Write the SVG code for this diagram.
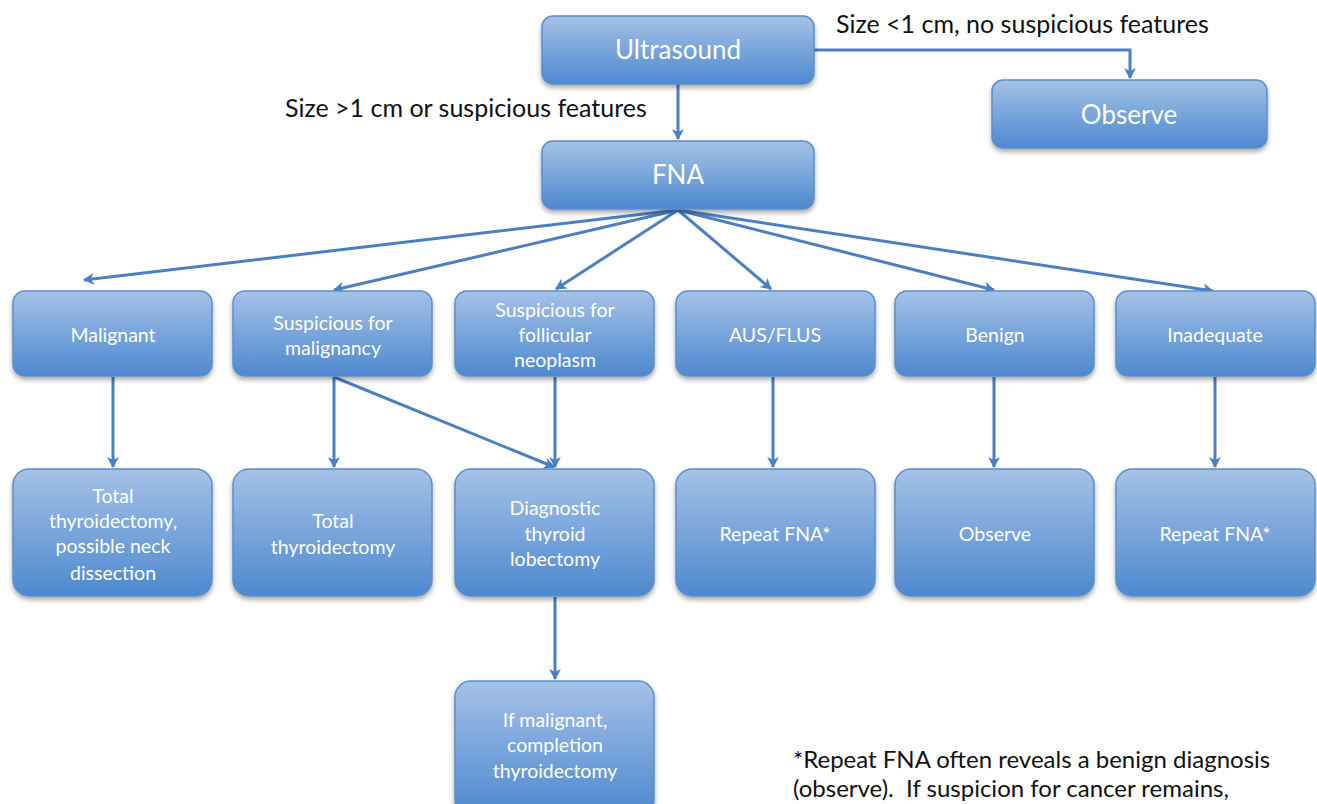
<svg xmlns="http://www.w3.org/2000/svg" width="1317" height="804" viewBox="0 0 1317 804">
<defs>
<linearGradient id="g" x1="0" y1="0" x2="0" y2="1">
<stop offset="0" stop-color="#a5c1e7"/>
<stop offset="1" stop-color="#4d89cf"/>
</linearGradient>
<filter id="sh" x="-10%" y="-10%" width="120%" height="130%">
<feGaussianBlur in="SourceAlpha" stdDeviation="2.5"/>
<feOffset dx="0" dy="3" result="b"/>
<feComponentTransfer><feFuncA type="linear" slope="0.35"/></feComponentTransfer>
<feMerge><feMergeNode/><feMergeNode in="SourceGraphic"/></feMerge>
</filter>
<marker id="ah" viewBox="0 0 12 12" refX="10" refY="6" markerWidth="12" markerHeight="12" markerUnits="userSpaceOnUse" orient="auto">
<path d="M0,0 L11,6 L0,12 L3,6 Z" fill="#4a7fc1"/>
</marker>
</defs>
<style>
.n rect{fill:url(#g);stroke:#5b8fcc;stroke-width:1.5;filter:url(#sh)}
.t{font-family:Lato,"Open Sans","Liberation Sans",sans-serif;fill:#fff;text-anchor:middle}
.big{font-size:26px}
.sm{font-size:19.5px}
.lbl{font-family:Lato,"Open Sans","Liberation Sans",sans-serif;font-size:25px;fill:#111}
.fn{font-size:24px}
.c path{fill:none;stroke:#4a7fc1;stroke-width:3;marker-end:url(#ah)}
</style>
<rect width="1317" height="804" fill="#fff"/>
<g class="c">
<path d="M678,84 V139"/>
<path d="M814,50 H1130 V78"/>
<path d="M678,210 L84,280"/>
<path d="M678,210 L334,290"/>
<path d="M678,210 L556,289"/>
<path d="M678,210 L771,289"/>
<path d="M678,210 L994,290"/>
<path d="M678,210 L1213,291"/>
<path d="M113,377 V467"/>
<path d="M334,377 V467"/>
<path d="M334,377 L554,467"/>
<path d="M555,377 V467"/>
<path d="M773,377 V467"/>
<path d="M994,377 V467"/>
<path d="M1215,377 V467"/>
<path d="M555,597 V679"/>
</g>
<g id="ultrasound" class="n"><rect x="542" y="16" width="272" height="68" rx="11"/><text class="t big" x="678" y="59">Ultrasound</text></g>
<g id="fna" class="n"><rect x="542" y="141" width="272" height="68" rx="11"/><text class="t big" x="678" y="184">FNA</text></g>
<g id="observe1" class="n"><rect x="992" y="80" width="275" height="68" rx="11"/><text class="t big" x="1129" y="124">Observe</text></g>
<g id="malignant" class="n"><rect x="13" y="291" width="199" height="85" rx="12"/><text class="t sm" x="113" y="342">Malignant</text></g>
<g id="susp-malig" class="n"><rect x="233" y="291" width="199" height="85" rx="12"/><text class="t sm" x="333" y="330">Suspicious for</text><text class="t sm" x="333" y="355">malignancy</text></g>
<g id="susp-foll" class="n"><rect x="455" y="291" width="199" height="85" rx="12"/><text class="t sm" x="555" y="317">Suspicious for</text><text class="t sm" x="555" y="342">follicular</text><text class="t sm" x="555" y="367">neoplasm</text></g>
<g id="aus" class="n"><rect x="676" y="291" width="199" height="85" rx="12"/><text class="t sm" x="775" y="342">AUS/FLUS</text></g>
<g id="benign" class="n"><rect x="895" y="291" width="199" height="85" rx="12"/><text class="t sm" x="995" y="342">Benign</text></g>
<g id="inadequate" class="n"><rect x="1116" y="291" width="199" height="85" rx="12"/><text class="t sm" x="1215" y="342">Inadequate</text></g>
<g id="total-neck" class="n"><rect x="13" y="469" width="199" height="127" rx="16"/><text class="t sm" x="113" y="503">Total</text><text class="t sm" x="113" y="528">thyroidectomy,</text><text class="t sm" x="113" y="553">possible neck</text><text class="t sm" x="113" y="580">dissection</text></g>
<g id="total" class="n"><rect x="233" y="469" width="199" height="127" rx="16"/><text class="t sm" x="333" y="528">Total</text><text class="t sm" x="333" y="554">thyroidectomy</text></g>
<g id="lobectomy" class="n"><rect x="455" y="469" width="199" height="127" rx="16"/><text class="t sm" x="555" y="515">Diagnostic</text><text class="t sm" x="555" y="541">thyroid</text><text class="t sm" x="555" y="566">lobectomy</text></g>
<g id="repeat1" class="n"><rect x="676" y="469" width="199" height="127" rx="16"/><text class="t sm" x="775" y="541">Repeat FNA*</text></g>
<g id="observe2" class="n"><rect x="895" y="469" width="199" height="127" rx="16"/><text class="t sm" x="995" y="541">Observe</text></g>
<g id="repeat2" class="n"><rect x="1116" y="469" width="199" height="127" rx="16"/><text class="t sm" x="1215" y="541">Repeat FNA*</text></g>
<g id="completion" class="n"><rect x="455" y="681" width="199" height="135" rx="16"/><text class="t sm" x="555" y="727">If malignant,</text><text class="t sm" x="555" y="752">completion</text><text class="t sm" x="555" y="778">thyroidectomy</text></g>
<text class="lbl" x="285" y="117">Size &gt;1 cm or suspicious features</text>
<text class="lbl" x="836" y="33">Size &lt;1 cm, no suspicious features</text>
<text class="lbl fn" x="793" y="768">*Repeat FNA often reveals a benign diagnosis</text>
<text class="lbl fn" x="793" y="797" xml:space="preserve">(observe).  If suspicion for cancer remains,</text>
</svg>
